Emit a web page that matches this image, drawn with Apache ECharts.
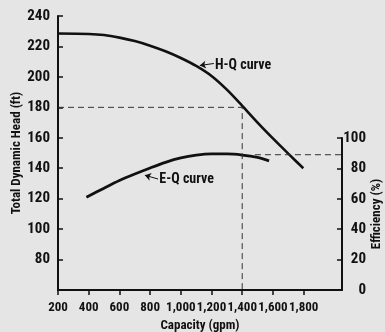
<!DOCTYPE html>
<html>
<head>
<meta charset="utf-8">
<script src="https://cdn.jsdelivr.net/npm/echarts@6/dist/echarts.min.js"></script>
<style>
  html, body { margin: 0; padding: 0; background: #e5e5e5; }
  #chart { width: 385px; height: 332px; }
</style>
</head>
<body>
<div id="chart"></div>
<script>
// axis ticks
const capTicks = [200, 400, 600, 800, 1000, 1200, 1400, 1600, 1800]
const headTicks = [80, 100, 120, 140, 160, 180, 200, 220, 240]
const effTicks = [20, 40, 60, 80, 100]
const effLabels = [0, 20, 40, 60, 80, 100]

// H-Q curve (capacity gpm -> head ft)
const hqCap = [200, 400, 500, 600, 700, 800, 900, 1000, 1100, 1200, 1300, 1400, 1500, 1600, 1700, 1798]
const hqHead = [228.5, 228.2, 227.5, 225.8, 223.5, 220.5, 216.8, 212.4, 207.2, 200.6, 191.6, 181.0, 170.0, 159.6, 149.6, 140]

// E-Q curve (capacity gpm -> efficiency %)
const eqCap = [385, 500, 600, 700, 800, 900, 1000, 1100, 1200, 1300, 1400, 1500, 1575]
const eqEff = [61, 67, 72, 76.3, 80.3, 84, 86.9, 88.7, 89.5, 89.5, 88.8, 87.2, 85]

// dashed guide lines
const guideHeadCap = [200, 1400, 1400]
const guideHeadVal = [180, 180, 60]
const guideEffCap = [1483, 2050]
const guideEffVal = [89, 89]

const ink = '#111'
const font = '"Roboto Condensed", "Open Sans Condensed", "DejaVu Sans Condensed", sans-serif'

const zip = (a, b) => a.map((v, i) => [v, b[i]])
const fmtCap = v => v >= 1000 ? v.toLocaleString('en-US') : String(v)

const chart = echarts.init(document.getElementById('chart'))

const tickLabel = { color: ink, fontFamily: font, fontWeight: 'bold', fontSize: 15 }
const nameStyle = { color: ink, fontFamily: font, fontWeight: 'bold', fontSize: 13 }

chart.setOption({
  backgroundColor: '#e5e5e5',
  animation: false,
  grid: [
    { left: 58, right: 43, top: 16, bottom: 42, outerBoundsMode: 'none' },
    { left: 58, right: 43, top: 138, bottom: 42, outerBoundsMode: 'none' },
  ],
  xAxis: [{
    gridIndex: 0,
    type: 'value',
    min: 200,
    max: 2050,
    name: 'Capacity (gpm)',
    nameLocation: 'middle',
    nameGap: 29,
    nameMoveOverlap: false,
    nameTextStyle: nameStyle,
    axisLine: { lineStyle: { color: ink, width: 2 } },
    axisTick: { show: true, length: 5, customValues: capTicks, lineStyle: { color: ink, width: 1.5 } },
    axisLabel: {
      ...tickLabel, fontSize: 13, margin: 11, customValues: capTicks, formatter: fmtCap,
      hideOverlap: false, showMinLabel: true, showMaxLabel: true,
    },
    splitLine: { show: false },
  }, {
    gridIndex: 1,
    type: 'value',
    min: 200,
    max: 2050,
    show: false,
  }],
  yAxis: [{
    gridIndex: 0,
    type: 'value',
    min: 60,
    max: 240,
    name: 'Total Dynamic Head (ft)',
    nameLocation: 'middle',
    nameGap: 35,
    nameMoveOverlap: false,
    nameRotate: 90,
    nameTextStyle: nameStyle,
    axisLine: { show: true, lineStyle: { color: ink, width: 2 } },
    axisTick: { show: true, inside: true, length: 5, customValues: headTicks, lineStyle: { color: ink, width: 1.5 } },
    axisLabel: { ...tickLabel, margin: 8, customValues: headTicks, showMaxLabel: true },
    splitLine: { show: false },
  }, {
    gridIndex: 1,
    type: 'value',
    position: 'right',
    min: 0,
    max: 100,
    name: 'Efficiency (%)',
    nameLocation: 'middle',
    nameGap: 28,
    nameMoveOverlap: false,
    nameRotate: 90,
    nameTextStyle: nameStyle,
    axisLine: { show: true, lineStyle: { color: ink, width: 2 } },
    axisTick: { show: true, inside: true, length: 5, customValues: effTicks, lineStyle: { color: ink, width: 1.5 } },
    axisLabel: { ...tickLabel, margin: 24, align: 'right', customValues: effLabels, showMinLabel: true, showMaxLabel: true },
    splitLine: { show: false },
  }],
  series: [{
    name: 'H-Q curve',
    type: 'line',
    xAxisIndex: 0,
    yAxisIndex: 0,
    smooth: 0.3,
    showSymbol: false,
    lineStyle: { color: ink, width: 2.6 },
    data: zip(hqCap, hqHead),
    markLine: {
      silent: true,
      symbol: ['arrow', 'none'],
      symbolSize: 6,
      label: { show: false },
      lineStyle: { color: ink, width: 1, type: 'solid' },
      data: [[{ coord: [1124, 207.5] }, { coord: [1215, 208.8] }]],
    },
    markPoint: {
      silent: true,
      symbol: 'circle',
      symbolSize: 0,
      label: { show: true, position: 'right', distance: 0, formatter: 'H-Q curve', ...tickLabel, fontSize: 14 },
      data: [{ coord: [1222, 207.8] }],
    },
  }, {
    name: 'E-Q curve',
    type: 'line',
    xAxisIndex: 1,
    yAxisIndex: 1,
    smooth: 0.3,
    showSymbol: false,
    lineStyle: { color: ink, width: 2.8 },
    data: zip(eqCap, eqEff),
    markLine: {
      silent: true,
      symbol: ['arrow', 'none'],
      symbolSize: 6,
      label: { show: false },
      lineStyle: { color: ink, width: 1, type: 'solid' },
      data: [[{ coord: [766, 75.5] }, { coord: [852, 73] }]],
    },
    markPoint: {
      silent: true,
      symbol: 'circle',
      symbolSize: 0,
      label: { show: true, position: 'right', distance: 0, formatter: 'E-Q curve', ...tickLabel, fontSize: 14 },
      data: [{ coord: [860, 72.4] }],
    },
  }, {
    type: 'line',
    xAxisIndex: 0,
    yAxisIndex: 0,
    showSymbol: false,
    silent: true,
    lineStyle: { color: '#333', width: 1, type: [6, 4] },
    data: zip(guideHeadCap, guideHeadVal),
  }, {
    type: 'line',
    xAxisIndex: 1,
    yAxisIndex: 1,
    showSymbol: false,
    silent: true,
    lineStyle: { color: '#333', width: 1, type: [6, 4] },
    data: zip(guideEffCap, guideEffVal),
  }],
})
</script>
</body>
</html>
